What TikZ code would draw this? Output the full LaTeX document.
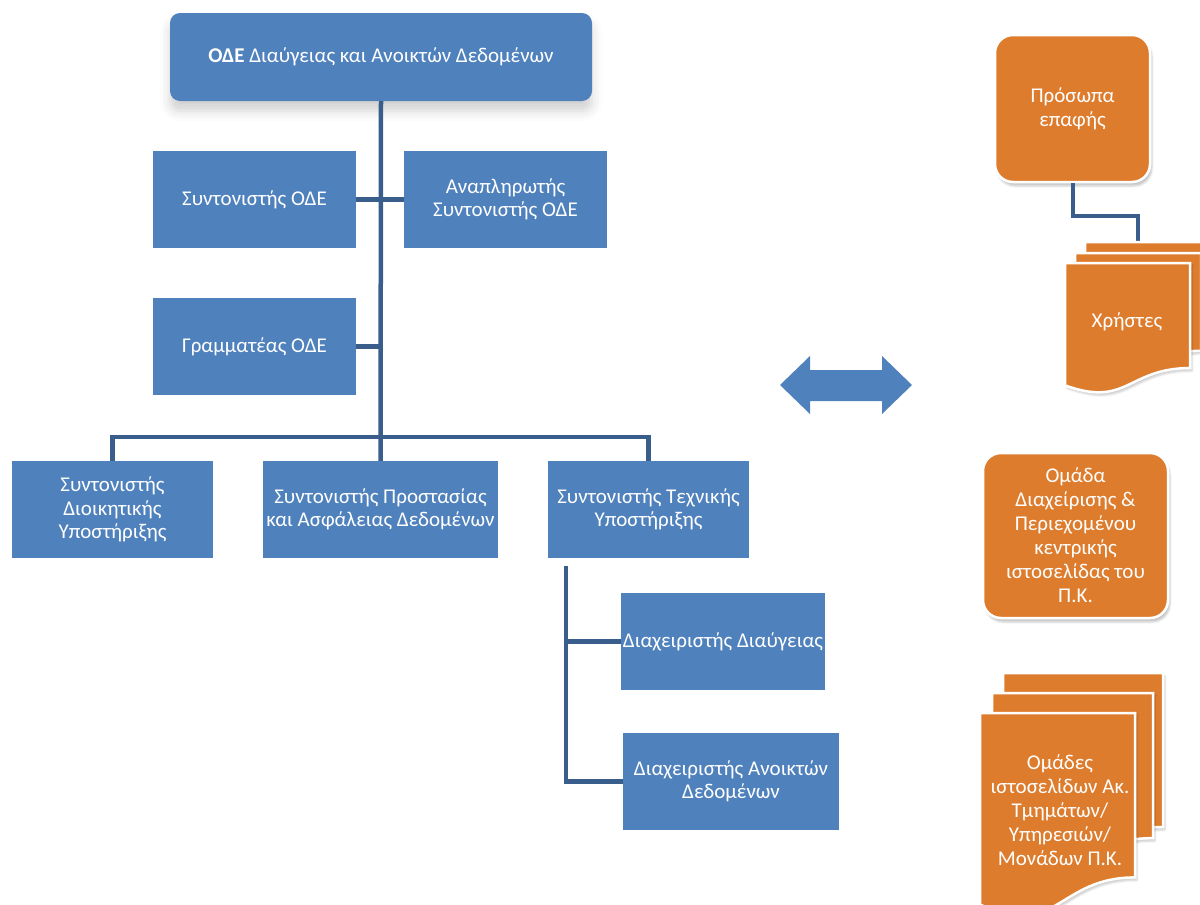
\documentclass[tikz,border=0pt]{standalone}
\usepackage{fontspec}
\setmainfont{Carlito}
\usetikzlibrary{positioning,shadows.blur}
\definecolor{boxblue}{RGB}{79,129,189}
\definecolor{linkblue}{RGB}{58,94,140}
\definecolor{boxorange}{RGB}{222,124,45}

% one sheet of a stacked-document shape: left, top, right, height
\newcommand{\docsheet}[4]{%
  \fill[boxorange, draw=white, line width=2.5pt, blur shadow={shadow xshift=2pt, shadow yshift=-3pt, shadow opacity=20}]
    (#1,#2) -- (#3,#2) -- (#3,{#2+0.802*#4})
    .. controls ({(#1+#3)/2},{#2+0.802*#4}) and ({(#1+#3)/2},{#2+1.107*#4}) .. (#1,{#2+0.934*#4}) -- cycle;}

\tikzset{
  role/.style={fill=boxblue, text=white, align=center, inner sep=2pt,
    minimum height=97pt, font=\fontsize{21}{23.5}\selectfont},
  team/.style={fill=boxorange, text=white, align=center, draw=white, line width=2.5pt,
    rounded corners=18pt, font=\fontsize{21}{24}\selectfont,
    blur shadow={shadow xshift=2pt, shadow yshift=-4pt, shadow opacity=22}},
  conn/.style={draw=linkblue, line width=4.5pt},
  label/.style={text=white, align=center, font=\fontsize{21}{24}\selectfont}
}

\begin{document}
\begin{tikzpicture}[x=1pt,y=-1pt]
  \useasboundingbox (0,0) rectangle (1200,905);
  \clip (0,0) rectangle (1200,905);

  % main unit
  \node[role, rounded corners=10pt, minimum width=422pt, minimum height=88pt,
        blur shadow={shadow xshift=0pt, shadow yshift=-10pt, shadow opacity=18, shadow blur radius=10pt}]
        (ode) at (381,57) {\textbf{ΟΔΕ} Διαύγειας και Ανοικτών Δεδομένων};

  \node[role, minimum width=203pt] (coord)  at (254.5,199.5) {Συντονιστής ΟΔΕ};
  \node[role, minimum width=203pt] (deputy) at (505.5,199.5) {Αναπληρωτής\\Συντονιστής ΟΔΕ};
  \node[role, minimum width=203pt] (secr)   at (254.5,346.5) {Γραμματέας ΟΔΕ};

  \node[role, minimum width=201pt] (admin) at (112.5,509.5) {Συντονιστής\\Διοικητικής\\Υποστήριξης};
  \node[role, minimum width=235pt] (prot)  at (380.5,509.5) {Συντονιστής Προστασίας\\και Ασφάλειας Δεδομένων};
  \node[role, minimum width=201pt] (tech)  at (648.5,509.5) {Συντονιστής Τεχνικής\\Υποστήριξης};

  \node[role, minimum width=202pt] (diav) at (723,641.5) {Διαχειριστής Διαύγειας};
  \node[role, minimum width=216pt] (open) at (731,781.5) {Διαχειριστής Ανοικτών\\Δεδομένων};

  % connectors
  \coordinate (techbus) at (566,566);
  \draw[conn] (ode.south) -- (prot.north);
  \draw[conn] (admin.north) -- ++(0,-24) -| (tech.north);
  \draw[conn] (coord.east) -- (deputy.west);
  \draw[conn] (secr.east) -- (secr.east -| ode.south);
  \draw[conn] (techbus) |- (diav.west);
  \draw[conn] (techbus) |- (open.west);

  % exchange arrow
  \fill[boxblue] (780,385) -- (810,356) -- (810,370) -- (882,370) -- (882,356) -- (912,385)
    -- (882,414) -- (882,401) -- (810,401) -- (810,414) -- cycle;

  % right column
  \node[team, minimum width=155pt, minimum height=147pt] (contact) at (1072.5,108.5) {Πρόσωπα\\επαφής};
  \coordinate (userstop) at (1138,242);
  \draw[conn, line width=4pt] (contact.south) -- ++(0,33) -| (userstop);
  \docsheet{1085}{242}{1212}{120}
  \docsheet{1075}{253}{1201}{122}
  \docsheet{1065}{263}{1190}{131}
  \node[label] (users) at (1127,322) {Χρήστες};

  \node[team, minimum width=185pt, minimum height=165pt] (cms) at (1075.5,535.5)
    {Ομάδα\\Διαχείρισης \&\\Περιεχομένου\\κεντρικής\\ιστοσελίδας του\\Π.Κ.};

  \docsheet{1003}{673}{1163}{192}
  \docsheet{992}{693}{1153}{181}
  \docsheet{980}{713}{1135}{205}
  \node[label] (sites) at (1060,810) {Ομάδες\\ιστοσελίδων Ακ.\\Τμημάτων/\\Υπηρεσιών/\\Μονάδων Π.Κ.};
\end{tikzpicture}
\end{document}
